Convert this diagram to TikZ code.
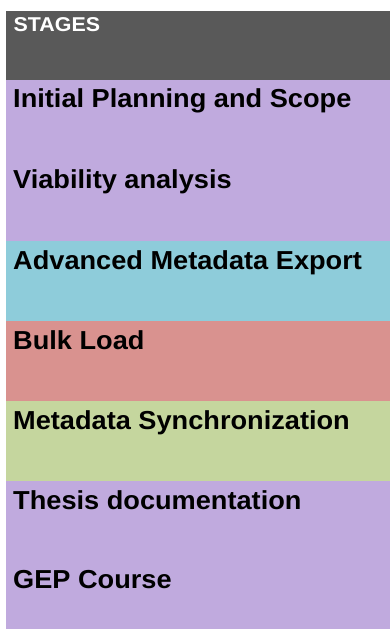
\documentclass[tikz,border=0pt]{standalone}
\usepackage{fontspec}
\setmainfont{Liberation Sans}
\newfontfamily\stagefont[FakeStretch=1.045]{Liberation Sans}
\newfontfamily\hdrfont[FakeStretch=1.07]{Liberation Sans}
\definecolor{hdr}{RGB}{89,89,89}
\definecolor{purp}{RGB}{192,170,222}
\definecolor{blu}{RGB}{142,204,218}
\definecolor{redd}{RGB}{217,146,143}
\definecolor{grn}{RGB}{197,214,158}
\tikzset{
  band/.style={draw=none,rectangle,inner sep=0pt,outer sep=0pt,anchor=north west,minimum width=384pt},
  stagetext/.style={anchor=base west,inner sep=0pt,font=\stagefont\fontsize{26}{30}\selectfont\bfseries,text=black},
  hdrtext/.style={anchor=base west,inner sep=0pt,font=\hdrfont\fontsize{20}{24}\selectfont\bfseries,text=white}
}
\begin{document}
\begin{tikzpicture}[x=1pt,y=-1pt]
\useasboundingbox (0,0) rectangle (390,631);
\node[band,fill=hdr,minimum height=69pt] (h) at (6,11) {};
\node[band,fill=purp,minimum height=161pt] (p1) at (6,80) {};
\node[band,fill=blu,minimum height=80pt] (b) at (6,241) {};
\node[band,fill=redd,minimum height=80pt] (r) at (6,321) {};
\node[band,fill=grn,minimum height=80pt] (g) at (6,401) {};
\node[band,fill=purp,minimum height=148pt] (p2) at (6,481) {};
\node[hdrtext] (th) at (13.5,32) {STAGES};
\node[stagetext] (t1) at (13,108) {Initial Planning and Scope};
\node[stagetext] (t2) at (13,188) {Viability analysis};
\node[stagetext] (t3) at (13,269) {Advanced Metadata Export};
\node[stagetext] (t4) at (13,349) {Bulk Load};
\node[stagetext] (t5) at (13,429) {Metadata Synchronization};
\node[stagetext] (t6) at (13,509) {Thesis documentation};
\node[stagetext] (t7) at (13,588) {GEP Course};
\end{tikzpicture}
\end{document}
